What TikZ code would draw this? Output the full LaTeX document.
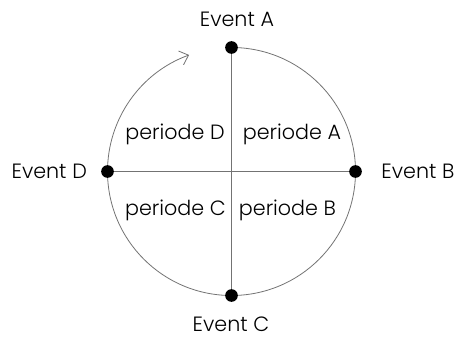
\documentclass[tikz,border=0pt]{standalone}
\usepackage{fontspec}
\setmainfont{Poppins}[UprightFont={* Light}]
\usetikzlibrary{arrows.meta,positioning,backgrounds}
\tikzset{
  event/.style={circle,fill=black,inner sep=0pt,minimum size=9.5pt},
  rim/.style={draw=black!55,line width=0.6pt},
  period/.style={inner sep=0pt},
}
\begin{document}
\begin{tikzpicture}[x=0.75pt,y=0.75pt,line cap=round,line join=round,font=\fontsize{15.5}{18}\selectfont]
  \useasboundingbox (0,0) rectangle (459,339);
  % the four events on the circle
  \node[event] (evA) at (231.5,291.5) {};
  \node[event] (evB) at (355.5,167.5) {};
  \node[event] (evC) at (231.5,43.5) {};
  \node[event] (evD) at (107.5,167.5) {};
  \begin{scope}[on background layer]
    % the circle, open at the top, arrow ends just before Event A
    \draw[rim,-{Straight Barb[length=6pt,width=11pt]}] (evA.center)
      arc[start angle=90,end angle=-250,radius=124];
    \draw[rim] (evA.center) -- (evC.center);
    \draw[rim] (evD.center) -- (evB.center);
  \end{scope}
  % labels
  \node (labA) at (237,320) {Event A};
  \node[right=11pt of evB] (labB) {Event B};
  \node (labC) at (231,15) {Event C};
  \node[left=7pt of evD] (labD) {Event D};
  \node[period] (perA) at (292,205) {periode A};
  \node[period] (perB) at (287.5,129) {periode B};
  \node[period] (perC) at (175.5,129) {periode C};
  \node[period] (perD) at (175,205) {periode D};
\end{tikzpicture}
\end{document}
